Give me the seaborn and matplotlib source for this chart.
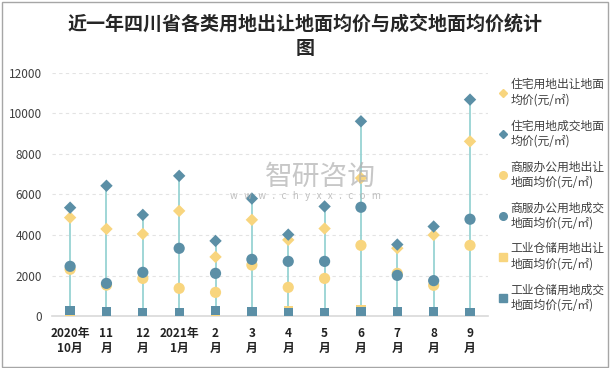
import numpy as np
import matplotlib
matplotlib.use('Agg')
import matplotlib.pyplot as plt
from matplotlib.lines import Line2D
from matplotlib.patches import Rectangle
import seaborn as sns

# 데이터
months = ['2020年\n10月', '11\n月', '12\n月', '2021年\n1月', '2\n月', '3\n月',
          '4\n月', '5\n月', '6\n月', '7\n月', '8\n月', '9\n月']
res_sell = [4860, 4300, 4055, 5190, 2920, 4750, 3760, 4320, 6810, 3350, 4000, 8620]
res_deal = [5350, 6430, 4995, 6920, 3710, 5800, 4020, 5410, 9610, 3530, 4420, 10680]
com_sell = [2310, 1530, 1860, 1370, 1170, 2520, 1420, 1860, 3490, 2110, 1520, 3490]
com_deal = [2456, 1615, 2160, 3345, 2110, 2800, 2700, 2700, 5370, 2010, 1750, 4780]
ind_sell = [200, 150, 120, 130, 220, 120, 270, 150, 320, 120, 130, 130]
ind_deal = [264, 214, 165, 165, 264, 210, 180, 180, 230, 214, 214, 165]

labels = ['住宅用地出让地面\n均价(元/㎡)', '住宅用地成交地面\n均价(元/㎡)',
          '商服办公用地出让\n地面均价(元/㎡)', '商服办公用地成交\n地面均价(元/㎡)',
          '工业仓储用地出让\n地面均价(元/㎡)', '工业仓储用地成交\n地面均价(元/㎡)']

yellow = '#F8D57E'
teal = '#5B8FA6'

sns.set_style('white')
plt.rcParams['font.family'] = ['Noto Sans CJK SC', 'DejaVu Sans']

fig = plt.figure(figsize=(6.11, 3.68), dpi=100)
ax = fig.add_axes([0.085, 0.141, 0.714, 0.661])

x = np.arange(len(months))
series = [res_sell, res_deal, com_sell, com_deal, ind_sell, ind_deal]
allv = np.array(series)

# 고저선
ax.vlines(x, allv.min(axis=0), allv.max(axis=0), color='#8FD0D0', linewidth=1.2, zorder=1)

styles = [('D', yellow, 40), ('D', teal, 40), ('o', yellow, 65), ('o', teal, 65),
          ('s', yellow, 45), ('s', teal, 45)]
for vals, (m, c, s) in zip(series, styles):
    sns.scatterplot(x=x, y=vals, marker=m, color=c, s=s, edgecolor='none', ax=ax, zorder=3)

ax.set_xlim(-0.5, len(months) - 0.5)
ax.set_ylim(0, 12000)
ax.set_yticks(range(0, 12001, 2000))
ax.set_xticks(x)
ax.set_xticklabels(months, fontsize=8.5, fontweight='bold', color='#222222', linespacing=1.2)
ax.tick_params(axis='y', labelsize=8.5, labelcolor='#404040', length=0, pad=7)
ax.tick_params(axis='x', length=0, pad=8)
ax.grid(axis='y', color='#E3E3E3', linestyle=(0, (3, 3)), linewidth=0.8)
for side in ['top', 'right', 'left']:
    ax.spines[side].set_visible(False)
ax.spines['bottom'].set_color('#D9D9D9')
ax.spines['bottom'].set_linewidth(1.2)

handles = [Line2D([], [], linestyle='none', marker=m, color=c, markersize=4.5 if m == 'D' else 5.5)
           for m, c, s in styles]
ax.legend(handles, labels, loc='upper left', bbox_to_anchor=(0.808, 0.80),
          bbox_transform=fig.transFigure, frameon=False, fontsize=8.5,
          labelcolor='#404040', handletextpad=0.2, handlelength=0.8,
          labelspacing=1.1, borderaxespad=0)

fig.text(0.5, 0.9, '近一年四川省各类用地出让地面均价与成交地面均价统计\n图', ha='center', va='center',
         fontsize=13.7, fontweight='bold', color='#262626', linespacing=1.3)

# 워터마크
fig.text(0.525, 0.519, '智研咨询', ha='center', va='center', fontsize=20, color='#B0B0B0', alpha=0.7)
fig.text(0.5, 0.467, 'w   w   w   .   c   h   y   x   x   .   c   o   m', ha='center', va='center',
         fontsize=7, color='#B0B0B0', alpha=0.8)

fig.patches.append(Rectangle((0.004, 0.004), 0.991, 0.99, transform=fig.transFigure,
                             fill=False, edgecolor='#A6A6A6', linewidth=1))

fig.savefig('out.png', dpi=100)
